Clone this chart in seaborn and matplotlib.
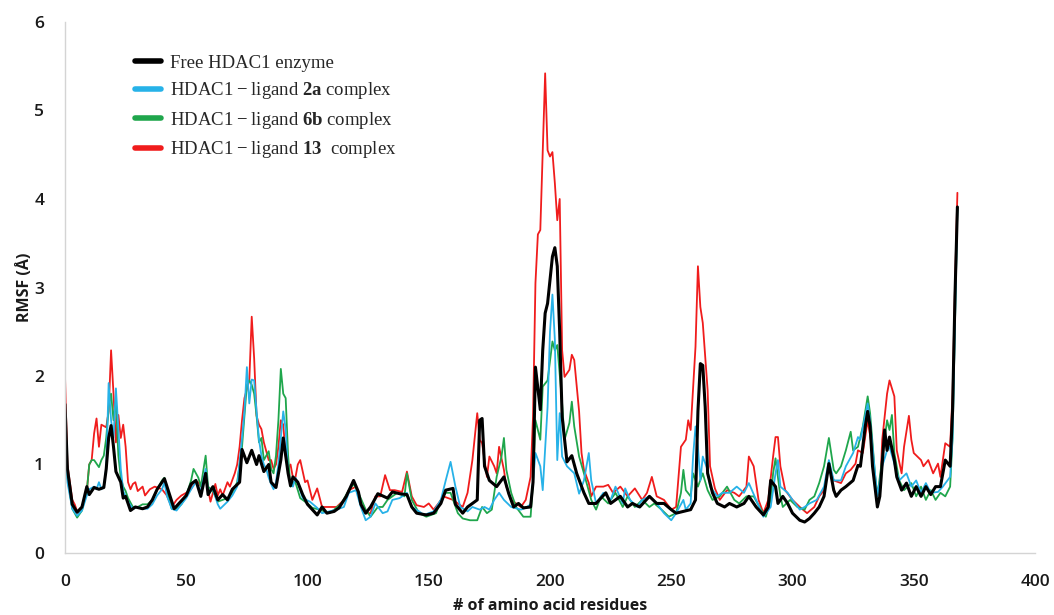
import seaborn as sns
import matplotlib.pyplot as plt
from matplotlib.lines import Line2D

# RMSF per residue (residue number, RMSF in Angstrom)
free_res = [0, 1, 3, 5, 7, 9, 10, 12, 14, 16,
            17, 18, 19, 20, 21, 23, 24, 25, 27, 29,
            32, 34, 36, 38, 41, 43, 45, 47, 50, 52,
            54, 56, 58, 59, 61, 63, 65, 67, 69, 72,
            73, 75, 77, 79, 80, 82, 84, 85, 87, 89,
            90, 92, 93, 94, 96, 98, 100, 102, 104, 106,
            108, 111, 113, 116, 119, 121, 122, 124, 126, 129,
            133, 135, 138, 141, 143, 145, 149, 152, 155, 157,
            160, 161, 164, 166, 168, 170, 171, 172, 173, 175,
            178, 181, 183, 185, 187, 189, 192, 193, 194, 196,
            197, 198, 199, 201, 202, 203, 204, 205, 207, 209,
            211, 214, 216, 219, 223, 225, 229, 232, 234, 237,
            241, 244, 247, 250, 252, 255, 258, 260, 261, 262,
            263, 264, 265, 267, 269, 272, 274, 277, 280, 282,
            285, 288, 290, 291, 293, 294, 296, 298, 300, 303,
            305, 307, 309, 311, 313, 315, 317, 318, 320, 322,
            325, 327, 328, 330, 331, 332, 333, 335, 336, 338,
            339, 340, 342, 343, 345, 347, 349, 351, 353, 355,
            357, 359, 361, 363, 365, 366, 367, 368]
free_rmsf = [1.68, 0.95, 0.55, 0.46, 0.52, 0.75, 0.66, 0.74, 0.72, 0.74,
             0.95, 1.3, 1.44, 1.2, 0.92, 0.8, 0.62, 0.64, 0.48, 0.52,
             0.5, 0.52, 0.6, 0.72, 0.84, 0.67, 0.5, 0.56, 0.65, 0.78,
             0.82, 0.64, 0.9, 0.66, 0.75, 0.6, 0.66, 0.6, 0.72, 0.8,
             1.17, 1.02, 1.16, 1.0, 1.1, 0.92, 1.0, 0.8, 0.74, 1.05,
             1.3, 0.9, 0.76, 0.86, 0.8, 0.66, 0.55, 0.49, 0.43, 0.52,
             0.45, 0.47, 0.51, 0.64, 0.82, 0.69, 0.55, 0.45, 0.52, 0.67,
             0.62, 0.69, 0.67, 0.66, 0.52, 0.45, 0.43, 0.45, 0.56, 0.71,
             0.73, 0.55, 0.45, 0.52, 0.56, 0.6, 1.5, 1.52, 0.98, 0.82,
             0.75, 0.86, 0.67, 0.52, 0.56, 0.51, 0.52, 0.8, 2.1, 1.62,
             2.29, 2.71, 2.82, 3.35, 3.45, 3.24, 2.49, 1.54, 1.03, 1.1,
             0.9, 0.68, 0.56, 0.56, 0.68, 0.56, 0.64, 0.52, 0.56, 0.52,
             0.64, 0.56, 0.56, 0.49, 0.45, 0.47, 0.49, 0.6, 1.6, 2.14,
             2.12, 1.65, 0.9, 0.68, 0.56, 0.52, 0.56, 0.52, 0.56, 0.64,
             0.52, 0.43, 0.52, 0.82, 0.75, 0.56, 0.64, 0.56, 0.45, 0.37,
             0.35, 0.39, 0.45, 0.52, 0.64, 1.01, 0.71, 0.64, 0.71, 0.75,
             0.82, 0.99, 0.98, 1.43, 1.6, 1.43, 0.98, 0.52, 0.64, 1.39,
             1.16, 1.31, 1.05, 0.86, 0.71, 0.79, 0.64, 0.75, 0.64, 0.75,
             0.66, 0.75, 0.75, 1.05, 0.98, 1.6, 2.9, 3.91]

lig2a_res = [0, 1, 3, 5, 7, 9, 10, 12, 13, 14,
             15, 16, 17, 18, 19, 20, 21, 22, 23, 24,
             26, 28, 30, 32, 34, 36, 38, 40, 41, 42,
             44, 46, 48, 50, 52, 54, 56, 58, 59, 61,
             63, 64, 67, 69, 71, 73, 74, 75, 76, 77,
             78, 79, 80, 81, 82, 83, 84, 85, 86, 87,
             88, 89, 90, 91, 92, 93, 94, 95, 96, 98,
             101, 104, 106, 109, 112, 115, 117, 120, 122, 124,
             126, 128, 131, 133, 135, 138, 141, 143, 146, 148,
             152, 155, 157, 159, 161, 163, 166, 168, 171, 173,
             175, 177, 179, 181, 184, 188, 190, 192, 193, 194,
             196, 197, 199, 200, 201, 202, 203, 204, 205, 207,
             210, 212, 214, 216, 217, 219, 222, 225, 227, 230,
             231, 233, 236, 238, 241, 244, 247, 250, 252, 255,
             256, 258, 259, 260, 261, 262, 263, 265, 266, 269,
             271, 274, 277, 280, 282, 285, 288, 291, 293, 294,
             295, 298, 300, 303, 305, 307, 310, 313, 315, 317,
             320, 322, 325, 327, 328, 331, 332, 334, 335, 337,
             339, 340, 342, 344, 347, 349, 351, 353, 355, 357,
             360, 362, 365, 366, 367, 368]
lig2a_rmsf = [1.45, 0.8, 0.5, 0.42, 0.48, 0.65, 0.72, 0.75, 0.72, 0.8,
              0.72, 0.76, 0.95, 1.92, 1.5, 1.3, 1.86, 1.4, 0.95, 0.7,
              0.58, 0.5, 0.52, 0.5, 0.5, 0.55, 0.65, 0.72, 0.8, 0.65,
              0.5, 0.48, 0.55, 0.62, 0.72, 0.8, 0.7, 0.95, 0.7, 0.72,
              0.55, 0.5, 0.58, 0.65, 0.75, 1.3, 1.6, 2.1, 1.69, 1.96,
              1.95, 1.6, 1.28, 1.1, 1.0, 0.95, 0.85, 0.78, 0.72, 0.8,
              1.0, 1.3, 1.6, 1.4, 0.9, 0.8, 0.75, 0.85, 0.8, 0.62,
              0.58, 0.51, 0.45, 0.47, 0.49, 0.52, 0.68, 0.71, 0.52, 0.37,
              0.41, 0.56, 0.45, 0.47, 0.6, 0.62, 0.68, 0.52, 0.47, 0.43,
              0.47, 0.6, 0.82, 1.03, 0.75, 0.52, 0.47, 0.52, 0.49, 0.52,
              0.49, 0.6, 0.68, 0.6, 0.52, 0.49, 0.51, 0.55, 0.8, 1.13,
              0.98, 0.71, 1.65, 2.5, 2.92, 2.41, 1.05, 1.58, 1.09, 0.98,
              0.9, 0.67, 0.82, 1.13, 0.82, 0.56, 0.68, 0.6, 0.75, 0.56,
              0.73, 0.6, 0.52, 0.6, 0.64, 0.56, 0.45, 0.37, 0.45, 0.6,
              0.49, 0.56, 1.09, 1.43, 1.2, 0.82, 1.09, 0.94, 0.75, 0.64,
              0.68, 0.68, 0.75, 0.68, 0.79, 0.6, 0.41, 0.52, 0.9, 1.05,
              0.75, 0.68, 0.6, 0.49, 0.52, 0.56, 0.6, 0.75, 1.05, 0.82,
              0.82, 0.98, 1.13, 1.31, 1.28, 1.69, 1.5, 0.9, 0.64, 0.98,
              1.16, 1.2, 1.01, 0.82, 0.9, 0.75, 0.82, 0.68, 0.79, 0.68,
              0.69, 0.75, 0.86, 1.3, 2.6, 3.9]

lig6b_res = [0, 1, 3, 5, 7, 9, 10, 11, 12, 14,
             15, 16, 17, 18, 19, 20, 21, 22, 23, 24,
             25, 26, 28, 30, 32, 34, 36, 38, 40, 41,
             42, 44, 46, 48, 50, 52, 53, 55, 56, 58,
             59, 61, 63, 65, 67, 69, 71, 73, 74, 75,
             76, 77, 78, 79, 80, 81, 82, 83, 84, 85,
             86, 87, 88, 89, 90, 91, 92, 93, 94, 95,
             97, 100, 102, 105, 109, 111, 114, 117, 119, 121,
             124, 126, 129, 131, 133, 137, 140, 141, 143, 146,
             149, 153, 155, 157, 159, 162, 164, 167, 170, 172,
             174, 176, 178, 180, 181, 182, 184, 186, 189, 192,
             193, 194, 196, 197, 199, 201, 202, 203, 205, 206,
             208, 209, 210, 212, 214, 217, 219, 221, 224, 227,
             230, 232, 235, 238, 241, 243, 246, 249, 252, 254,
             255, 256, 258, 259, 261, 263, 265, 267, 270, 273,
             276, 278, 281, 284, 287, 289, 291, 292, 293, 295,
             296, 299, 302, 305, 307, 309, 311, 313, 315, 317,
             318, 320, 322, 324, 325, 327, 329, 331, 332, 334,
             335, 338, 339, 340, 341, 342, 344, 346, 349, 351,
             353, 355, 357, 359, 361, 363, 365, 366, 367, 368]
lig6b_rmsf = [1.55, 0.85, 0.5, 0.4, 0.48, 0.7, 1.0, 1.05, 1.05, 0.97,
              1.05, 1.1, 1.3, 1.65, 1.8, 1.5, 1.72, 1.1, 0.85, 0.75,
              0.7, 0.62, 0.52, 0.52, 0.55, 0.55, 0.6, 0.72, 0.82, 0.85,
              0.7, 0.5, 0.5, 0.55, 0.65, 0.82, 0.95, 0.85, 0.75, 1.1,
              0.75, 0.7, 0.58, 0.6, 0.62, 0.68, 0.8, 1.2, 1.55, 1.9,
              1.95, 1.9, 1.8, 1.55, 1.25, 1.3, 1.05, 1.1, 1.15, 0.95,
              0.9, 1.1, 1.5, 2.08, 1.8, 1.75, 1.1, 0.75, 0.8, 0.8,
              0.62, 0.56, 0.51, 0.49, 0.45, 0.49, 0.56, 0.71, 0.78, 0.68,
              0.49, 0.41, 0.52, 0.52, 0.6, 0.68, 0.64, 0.9, 0.6, 0.45,
              0.41, 0.45, 0.6, 0.68, 0.68, 0.45, 0.39, 0.37, 0.37, 0.52,
              0.45, 0.49, 0.86, 1.09, 1.3, 0.94, 0.68, 0.52, 0.41, 0.41,
              0.8, 1.5, 1.28, 1.88, 1.95, 2.39, 2.29, 2.35, 1.69, 1.28,
              1.47, 1.71, 1.43, 1.09, 0.9, 0.6, 0.49, 0.64, 0.56, 0.68,
              0.52, 0.64, 0.52, 0.6, 0.52, 0.56, 0.49, 0.41, 0.45, 0.68,
              0.94, 0.71, 0.64, 0.9, 0.75, 0.9, 0.71, 0.6, 0.64, 0.75,
              0.6, 0.56, 0.64, 0.64, 0.49, 0.41, 0.6, 0.9, 1.07, 0.64,
              0.52, 0.6, 0.52, 0.49, 0.6, 0.64, 0.79, 0.98, 1.3, 0.94,
              0.9, 0.98, 1.16, 1.37, 1.16, 1.2, 1.43, 1.77, 1.58, 0.9,
              0.64, 1.28, 1.5, 1.39, 1.56, 1.13, 0.82, 0.71, 0.79, 0.64,
              0.75, 0.6, 0.71, 0.6, 0.68, 0.64, 0.75, 1.3, 2.6, 3.9]

lig13_res = [0, 1, 3, 4, 5, 7, 9, 10, 11, 12,
             13, 14, 15, 17, 18, 19, 20, 21, 22, 23,
             24, 25, 26, 27, 28, 29, 30, 32, 33, 35,
             37, 40, 42, 44, 46, 48, 50, 52, 53, 55,
             56, 57, 58, 59, 60, 62, 63, 64, 65, 67,
             68, 70, 71, 72, 73, 74, 75, 76, 77, 78,
             79, 80, 81, 82, 83, 84, 85, 86, 87, 88,
             89, 90, 91, 92, 93, 94, 95, 96, 97, 99,
             100, 102, 104, 106, 109, 112, 115, 117, 120, 122,
             124, 126, 128, 130, 132, 134, 136, 139, 141, 143,
             145, 148, 150, 152, 154, 156, 158, 160, 162, 164,
             166, 168, 170, 171, 172, 174, 175, 177, 178, 179,
             181, 182, 184, 186, 188, 190, 192, 193, 194, 195,
             196, 197, 198, 199, 200, 201, 202, 203, 204, 205,
             206, 208, 209, 210, 212, 213, 214, 216, 217, 219,
             222, 224, 226, 229, 232, 235, 238, 240, 242, 244,
             247, 250, 252, 254, 256, 257, 258, 260, 261, 262,
             263, 265, 266, 268, 270, 273, 276, 278, 281, 282,
             284, 286, 288, 290, 292, 293, 294, 295, 297, 300,
             303, 306, 309, 311, 313, 315, 317, 320, 322, 324,
             326, 327, 329, 331, 333, 334, 336, 337, 339, 340,
             342, 343, 345, 346, 348, 349, 350, 353, 354, 356,
             358, 360, 361, 363, 365, 366, 367, 368]
lig13_rmsf = [2.0, 1.0, 0.6, 0.55, 0.47, 0.52, 0.7, 1.0, 1.05, 1.35,
              1.52, 1.2, 1.45, 1.42, 1.6, 2.29, 1.8, 1.25, 1.56, 1.3,
              1.45, 1.2, 0.8, 0.72, 0.78, 0.8, 0.7, 0.75, 0.65, 0.72,
              0.75, 0.72, 0.65, 0.52, 0.6, 0.65, 0.68, 0.72, 0.8, 0.8,
              0.75, 0.85, 0.88, 0.72, 0.58, 0.78, 0.65, 0.72, 0.65, 0.8,
              0.75, 0.9, 1.0, 1.2, 1.5, 1.75, 1.85, 1.95, 2.67, 2.2,
              1.55, 1.45, 1.4, 1.25, 1.15, 1.05, 1.05, 0.95, 1.0, 1.2,
              1.5, 1.45, 1.1, 0.95, 1.0, 0.85, 0.85, 1.0, 1.05, 0.8,
              0.82, 0.6, 0.73, 0.52, 0.52, 0.52, 0.6, 0.71, 0.75, 0.56,
              0.45, 0.45, 0.64, 0.64, 0.88, 0.71, 0.71, 0.69, 0.92, 0.64,
              0.54, 0.52, 0.56, 0.49, 0.56, 0.64, 0.62, 0.6, 0.56, 0.52,
              0.68, 1.05, 1.58, 1.28, 1.24, 0.86, 1.09, 0.98, 0.9, 1.2,
              0.94, 0.75, 0.6, 0.56, 0.52, 0.6, 0.86, 1.54, 3.05, 3.6,
              3.65, 4.55, 5.42, 4.55, 4.48, 4.53, 4.18, 3.76, 4.0, 2.29,
              1.99, 2.07, 2.24, 2.18, 1.6, 1.13, 0.94, 0.79, 0.64, 0.75,
              0.75, 0.77, 0.68, 0.75, 0.64, 0.73, 0.6, 0.68, 0.86, 0.64,
              0.6, 0.49, 0.52, 1.2, 1.28, 1.5, 1.39, 2.33, 3.24, 2.78,
              2.6, 1.84, 0.98, 0.73, 0.6, 0.71, 0.68, 0.64, 0.75, 1.09,
              0.98, 0.6, 0.45, 0.6, 1.09, 1.31, 1.31, 0.98, 0.71, 0.6,
              0.52, 0.45, 0.52, 0.64, 0.71, 0.98, 0.82, 0.79, 0.9, 0.94,
              1.01, 1.16, 1.13, 1.5, 1.16, 0.75, 0.64, 1.28, 1.8, 1.95,
              1.77, 1.16, 0.9, 1.2, 1.55, 1.28, 1.13, 1.05, 0.98, 1.05,
              0.9, 1.01, 0.86, 1.24, 1.2, 1.8, 3.0, 4.07]

labels = ['Free HDAC1 enzyme',
          'HDAC1\u2009\u2212\u2009ligand $\\mathbf{2a}$ complex',
          'HDAC1\u2009\u2212\u2009ligand $\\mathbf{6b}$ complex',
          'HDAC1\u2009\u2212\u2009ligand $\\mathbf{13}$  complex']
colors = ['#000000', '#27b2e8', '#1fa64c', '#f01c1c']

sns.set_theme(style='white')
plt.rcParams['font.family'] = ['Open Sans', 'DejaVu Sans']
plt.rcParams['mathtext.fontset'] = 'custom'
plt.rcParams['mathtext.rm'] = 'Liberation Serif'
plt.rcParams['mathtext.bf'] = 'Liberation Serif:bold'

fig = plt.figure(figsize=(10.54, 6.15), dpi=100)
ax = fig.add_axes([65 / 1054, 62 / 615, 970 / 1054, 531 / 615])

# draw red first so the black curve sits on top
sns.lineplot(x=lig13_res, y=lig13_rmsf, ax=ax, color=colors[3], linewidth=1.3,
             estimator=None, sort=False)
sns.lineplot(x=lig6b_res, y=lig6b_rmsf, ax=ax, color=colors[2], linewidth=1.3,
             estimator=None, sort=False)
sns.lineplot(x=lig2a_res, y=lig2a_rmsf, ax=ax, color=colors[1], linewidth=1.3,
             estimator=None, sort=False)
sns.lineplot(x=free_res, y=free_rmsf, ax=ax, color=colors[0], linewidth=2.2,
             estimator=None, sort=False)

ax.set_xlim(0, 400)
ax.set_ylim(0, 6)
ax.set_xticks(range(0, 401, 50))
ax.set_yticks(range(0, 7))

for side in ['top', 'right']:
    ax.spines[side].set_visible(False)
for side in ['left', 'bottom']:
    ax.spines[side].set_color('#d4d4d4')
    ax.spines[side].set_linewidth(1.0)
ax.tick_params(axis='both', direction='inout', length=10, width=1,
               color='#d4d4d4', labelsize=12.5, labelcolor='#1a1a1a')
ax.tick_params(axis='x', pad=10)
ax.tick_params(axis='y', pad=10)
for lab in ax.get_xticklabels() + ax.get_yticklabels():
    lab.set_fontweight('semibold')

ax.set_xlabel('# of amino acid residues', fontsize=11.5, fontweight='bold',
              color='#1a1a1a', labelpad=6)
ax.set_ylabel('RMSF (\u00c5)', fontsize=11.5, fontweight='bold',
              color='#1a1a1a', labelpad=1)

handles = [Line2D([0], [0], color=c, linewidth=4) for c in colors]
ax.legend(handles, labels, loc='upper left', bbox_to_anchor=(0.055, 0.97),
          frameon=False, prop={'family': 'Liberation Serif', 'size': 13.5},
          handlelength=1.4, handletextpad=0.45, labelspacing=0.45)

fig.savefig('out.png', dpi=100)
